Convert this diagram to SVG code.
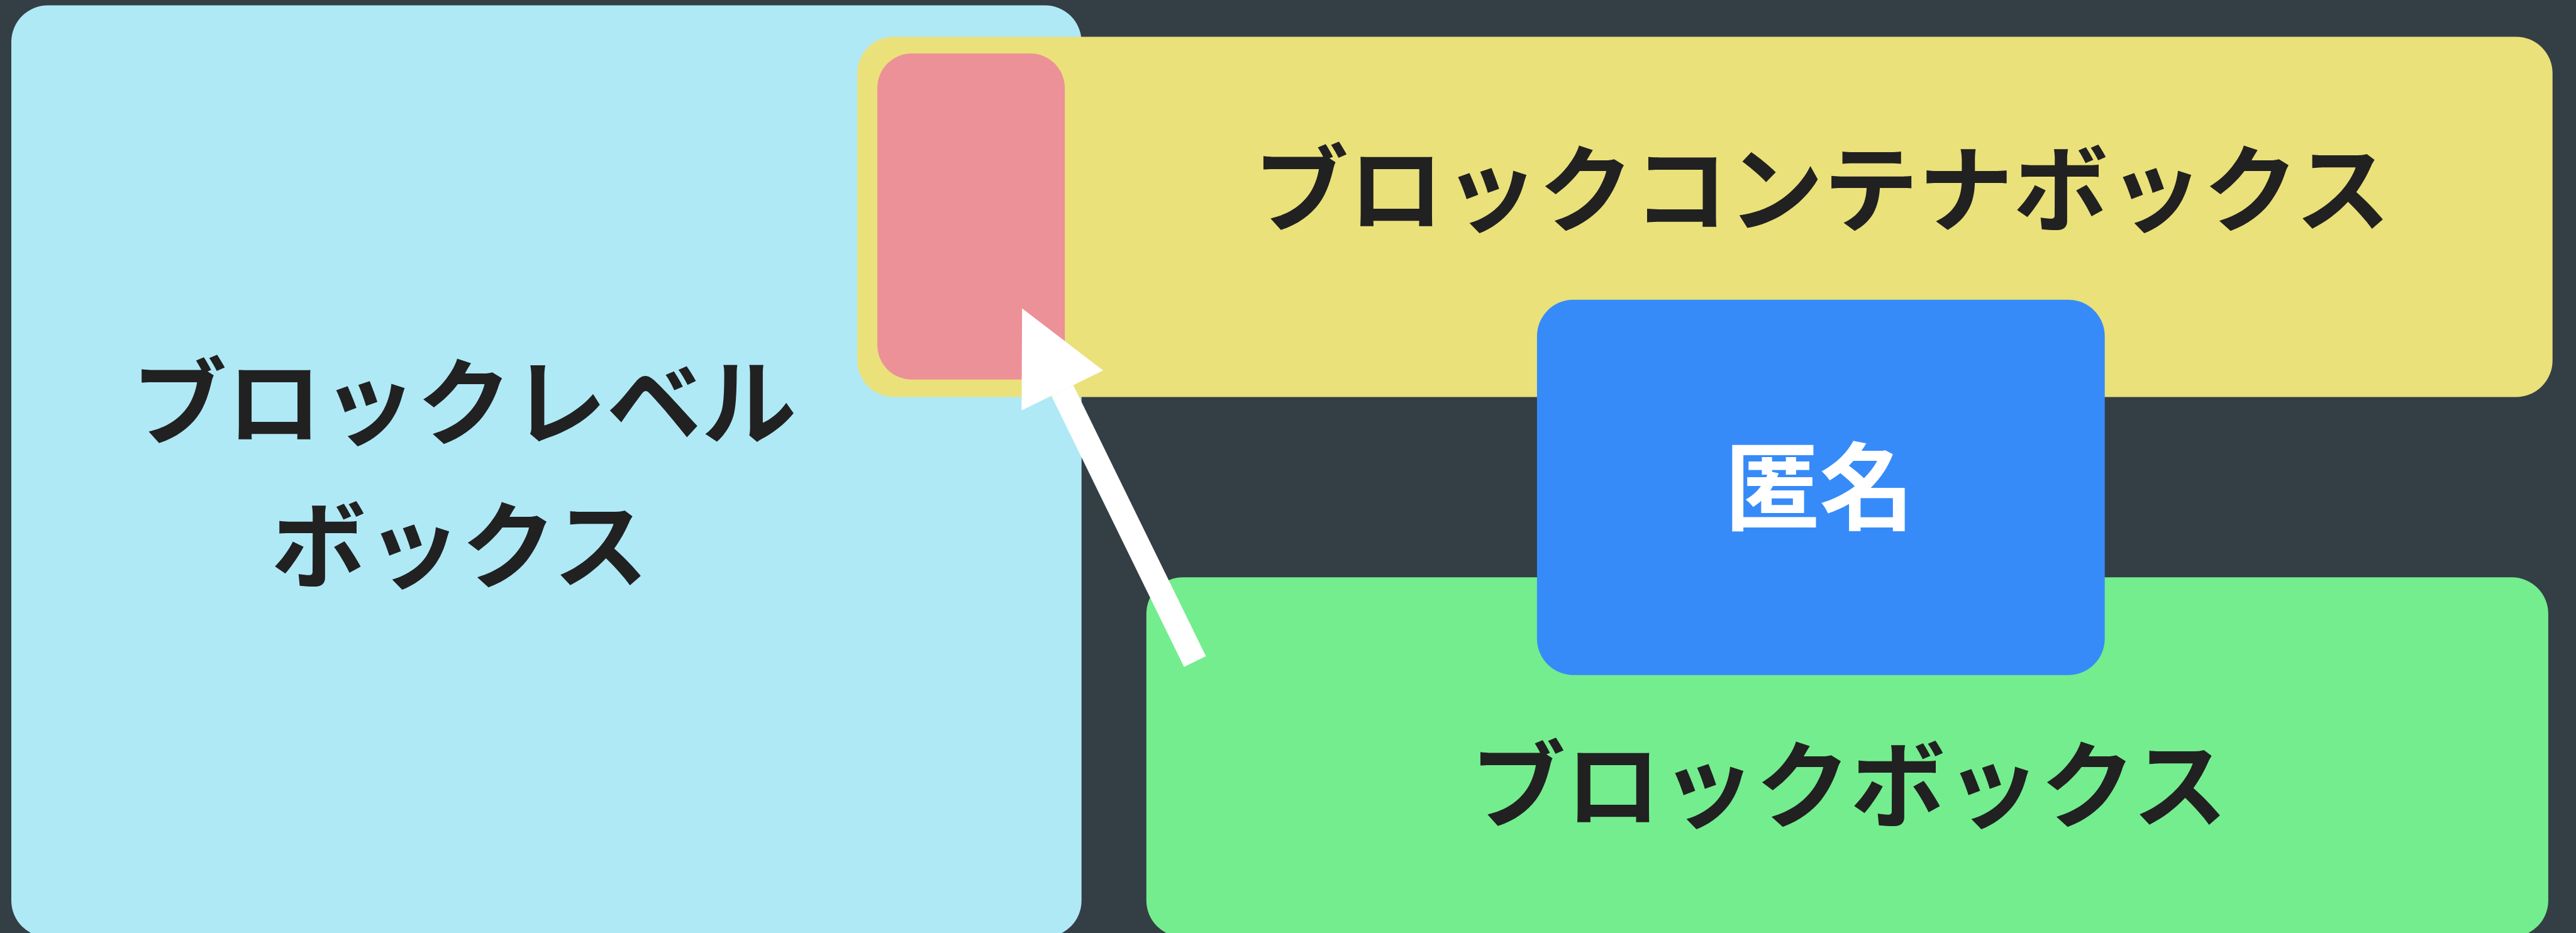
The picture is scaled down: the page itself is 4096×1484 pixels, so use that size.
<svg xmlns="http://www.w3.org/2000/svg" width="4096" height="1484" viewBox="0 0 4096 1484">
  <style>
    .lbl { font-family: "Noto Sans CJK JP", "Noto Sans", sans-serif; font-weight: 700; font-size: 151px; text-anchor: middle; fill: #212121; }
    .wht { fill: #FFFFFF; }
    .box { stroke: none; }
  </style>
  <rect x="0" y="0" width="4096" height="1484" fill="#343E45"/>
  <g id="block-level-box">
    <rect class="box" x="18" y="8.6" width="1701.7" height="1482" rx="58" ry="58" fill="#AFE9F6"/>
    <text class="lbl" x="738" y="696">ブロックレベル</text>
    <text class="lbl" x="731" y="924">ボックス</text>
  </g>
  <g id="block-container-box">
    <rect class="box" x="1363.2" y="58.4" width="2695.5" height="573" rx="58" ry="58" fill="#EAE17A"/>
    <text class="lbl" x="2897" y="357">ブロックコンテナボックス</text>
  </g>
  <g id="inner-box">
    <rect class="box" x="1395" y="85" width="298.1" height="518.8" rx="55" ry="55" fill="#EC9198"/>
  </g>
  <g id="block-box">
    <rect class="box" x="1822.8" y="918.3" width="2229.1" height="572" rx="58" ry="58" fill="#74ED8E"/>
    <text class="lbl" x="2940" y="1305">ブロックボックス</text>
  </g>
  <g id="anonymous-box">
    <rect class="box" x="2443.9" y="476.7" width="902.8" height="597" rx="58" ry="58" fill="#368BF9"/>
    <text class="lbl wht" x="2893" y="831">匿名</text>
  </g>
  <g id="connectors">
    <line x1="1900.1" y1="1052.3" x2="1689.2" y2="621.1" stroke="#FFFFFF" stroke-width="38.7" stroke-linecap="butt"/>
    <polygon points="1625.2,490.5 1754.1,589.3 1624.4,652.8" fill="#FFFFFF"/>
  </g>
</svg>
